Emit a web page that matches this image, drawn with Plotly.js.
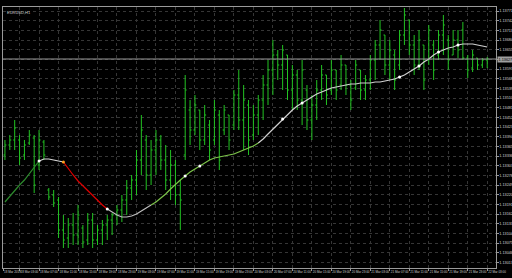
<!DOCTYPE html>
<html><head><meta charset="utf-8">
<script src="https://cdn.plot.ly/plotly-3.0.1.min.js"></script>
<style>html,body{margin:0;padding:0;background:#000;}#chart{width:512px;height:278px;}</style>
</head><body><div id="chart"></div>
<script>
const symbolTitle = "EURUSD,H1";
const highs = [1.13384,1.13399,1.13444,1.13399,1.13384,1.13414,1.13399,1.13414,1.13384,1.13240,
1.13234,1.13213,1.13159,1.13150,1.13165,1.13189,1.13129,1.13165,1.13165,1.13129,
1.13144,1.13159,1.13165,1.13189,1.13219,1.13264,1.13279,1.13354,1.13459,1.13399,
1.13384,1.13414,1.13399,1.13369,1.13354,1.13324,1.13264,1.13579,1.13504,1.13519,
1.13474,1.13489,1.13444,1.13504,1.13474,1.13489,1.13459,1.13534,1.13594,1.13549,
1.13504,1.13489,1.13519,1.13579,1.13624,1.13684,1.13654,1.13669,1.13639,1.13609,
1.13594,1.13624,1.13549,1.13519,1.13564,1.13609,1.13579,1.13624,1.13594,1.13639,
1.13609,1.13564,1.13624,1.13594,1.13579,1.13639,1.13684,1.13744,1.13699,1.13684,
1.13654,1.13714,1.13780,1.13744,1.13699,1.13714,1.13669,1.13729,1.13684,1.13714,
1.13759,1.13699,1.13714,1.13714,1.13738,1.13639,1.13654,1.13630,1.13630,1.13633];
const lows = [1.13324,1.13354,1.13354,1.13309,1.13324,1.13369,1.13225,1.13294,1.13324,1.13204,
1.13183,1.13090,1.13060,1.13060,1.13069,1.13069,1.13060,1.13069,1.13060,1.13069,
1.13069,1.13084,1.13099,1.13129,1.13138,1.13159,1.13204,1.13219,1.13279,1.13234,
1.13249,1.13279,1.13294,1.13234,1.13204,1.13189,1.13114,1.13324,1.13369,1.13399,
1.13354,1.13369,1.13324,1.13369,1.13294,1.13399,1.13354,1.13414,1.13414,1.13354,
1.13339,1.13384,1.13399,1.13444,1.13489,1.13519,1.13564,1.13534,1.13504,1.13474,
1.13474,1.13429,1.13414,1.13384,1.13444,1.13504,1.13489,1.13519,1.13504,1.13534,
1.13519,1.13474,1.13534,1.13504,1.13504,1.13534,1.13564,1.13624,1.13579,1.13564,
1.13534,1.13594,1.13669,1.13639,1.13579,1.13594,1.13534,1.13609,1.13564,1.13624,
1.13639,1.13594,1.13639,1.13630,1.13624,1.13570,1.13588,1.13594,1.13600,1.13600];
const opens = [1.13339,1.13369,1.13384,1.13384,1.13339,1.13375,1.13390,1.13309,1.13378,1.13234,
1.13219,1.13204,1.13114,1.13090,1.13129,1.13099,1.13120,1.13084,1.13144,1.13084,
1.13114,1.13129,1.13144,1.13159,1.13174,1.13204,1.13240,1.13264,1.13324,1.13384,
1.13279,1.13354,1.13384,1.13324,1.13264,1.13309,1.13219,1.13339,1.13474,1.13414,
1.13474,1.13384,1.13429,1.13384,1.13459,1.13414,1.13459,1.13429,1.13519,1.13444,
1.13489,1.13399,1.13459,1.13504,1.13549,1.13594,1.13639,1.13609,1.13639,1.13534,
1.13579,1.13504,1.13534,1.13444,1.13489,1.13534,1.13579,1.13534,1.13594,1.13549,
1.13609,1.13549,1.13540,1.13594,1.13534,1.13564,1.13624,1.13669,1.13699,1.13609,
1.13639,1.13609,1.13699,1.13744,1.13669,1.13609,1.13669,1.13624,1.13669,1.13639,
1.13699,1.13684,1.13639,1.13684,1.13714,1.13630,1.13600,1.13630,1.13609,1.13624];
const closes = [1.13369,1.13384,1.13420,1.13330,1.13369,1.13399,1.13249,1.13384,1.13339,1.13213,
1.13195,1.13114,1.13084,1.13129,1.13099,1.13159,1.13078,1.13144,1.13084,1.13114,
1.13129,1.13144,1.13159,1.13174,1.13204,1.13240,1.13264,1.13324,1.13414,1.13279,
1.13354,1.13384,1.13324,1.13264,1.13309,1.13219,1.13204,1.13534,1.13414,1.13489,
1.13384,1.13459,1.13354,1.13474,1.13324,1.13474,1.13384,1.13519,1.13444,1.13504,
1.13384,1.13459,1.13504,1.13549,1.13594,1.13639,1.13609,1.13654,1.13534,1.13579,
1.13504,1.13594,1.13444,1.13489,1.13534,1.13579,1.13519,1.13594,1.13534,1.13609,
1.13549,1.13504,1.13609,1.13534,1.13564,1.13624,1.13669,1.13714,1.13609,1.13654,
1.13564,1.13699,1.13759,1.13669,1.13609,1.13684,1.13564,1.13714,1.13594,1.13699,
1.13729,1.13624,1.13684,1.13654,1.13630,1.13594,1.13639,1.13609,1.13624,1.13627];
const maValues = [1.13198,1.13216,1.13234,1.13249,1.13264,1.13282,1.13303,1.13321,1.13327,1.13327,
1.13324,1.13321,1.13318,1.13297,1.13279,1.13261,1.13246,1.13231,1.13216,1.13204,
1.13189,1.13177,1.13168,1.13159,1.13153,1.13153,1.13156,1.13162,1.13171,1.13180,
1.13189,1.13198,1.13210,1.13222,1.13237,1.13252,1.13264,1.13276,1.13288,1.13297,
1.13306,1.13315,1.13324,1.13330,1.13333,1.13336,1.13339,1.13342,1.13348,1.13354,
1.13360,1.13366,1.13375,1.13387,1.13402,1.13417,1.13432,1.13447,1.13462,1.13474,
1.13486,1.13495,1.13504,1.13513,1.13522,1.13528,1.13534,1.13540,1.13543,1.13546,
1.13549,1.13552,1.13552,1.13555,1.13555,1.13555,1.13558,1.13558,1.13561,1.13564,
1.13567,1.13573,1.13579,1.13588,1.13597,1.13606,1.13618,1.13627,1.13639,1.13648,
1.13654,1.13660,1.13663,1.13669,1.13672,1.13672,1.13672,1.13669,1.13666,1.13663];
// MA colour segments: [first bar, last bar, colour]
const maSegStart = [0, 7, 12, 21, 30, 52];
const maSegEnd   = [7, 12, 21, 30, 52, 99];
const maSegColor = ['#2d8a2d', '#d8d8d8', '#e00000', '#bdbdbd', '#7cc44a', '#d0d0d0'];
const dotIndex = [7, 12, 21, 37, 40, 57, 61, 81, 85, 89, 93];
const dotColor = ['#ffffff', '#ff9f1a', '#ffffff', '#ffffff', '#ffffff', '#ffffff', '#ffffff', '#ffffff', '#ffffff', '#ffffff', '#ffffff'];
const lastPrice = 1.13627;
const tickPos = [-0.4, 3, 7, 11, 15, 19, 23, 27, 31, 35, 39, 43, 47, 51, 55, 59, 63, 67, 71, 75, 79, 83, 87, 91, 95, 99];
const tickLabels = ["18 Mar 2019","18 Mar 03:00","18 Mar 07:00","18 Mar 11:00","18 Mar 15:00","18 Mar 19:00","18 Mar 23:00",
"19 Mar 03:00","19 Mar 07:00","19 Mar 11:00","19 Mar 15:00","19 Mar 19:00","19 Mar 23:00",
"20 Mar 03:00","20 Mar 07:00","20 Mar 11:00","20 Mar 15:00","20 Mar 19:00","20 Mar 23:00",
"21 Mar 03:00","21 Mar 07:00","21 Mar 11:00","21 Mar 15:00","21 Mar 19:00","21 Mar 23:00","22 Mar 03:00"];

const idx = highs.map((_, i) => i);
const traces = [{
  type: 'ohlc', x: idx, open: opens, high: highs, low: lows, close: closes,
  increasing: {line: {color: '#22c322', width: 1}},
  decreasing: {line: {color: '#22c322', width: 1}},
  tickwidth: 0.3, hoverinfo: 'skip', showlegend: false
}];
for (let s = 0; s < maSegStart.length; s++) {
  const xs = [], ys = [];
  for (let i = maSegStart[s]; i <= maSegEnd[s]; i++) { xs.push(i); ys.push(maValues[i]); }
  traces.push({type: 'scatter', mode: 'lines', x: xs, y: ys, line: {color: maSegColor[s], width: 1.2}, showlegend: false, hoverinfo: 'skip'});
}
traces.push({type: 'scatter', mode: 'markers', x: dotIndex, y: dotIndex.map(i => maValues[i]),
  marker: {color: dotColor, size: 3}, showlegend: false, hoverinfo: 'skip'});

const narrow = '"Liberation Sans Narrow", "Liberation Sans", Arial, sans-serif';
const font = {family: narrow, size: 3.8, color: '#d0d0d0'};
const xfont = {family: narrow, size: 3.0, color: '#d0d0d0'};
const layout = {
  width: 512, height: 278,
  paper_bgcolor: '#000000', plot_bgcolor: '#000000',
  margin: {l: 3, r: 16, t: 7, b: 10},
  font: font,
  showlegend: false,
  xaxis: {
    range: [-0.4, 100.8], rangeslider: {visible: false},
    tickmode: 'array', tickvals: tickPos, ticktext: tickLabels, tickangle: 0,
    ticklabelposition: 'outside right', ticks: 'outside', ticklen: 2, tickcolor: '#9a9a9a',
    tickfont: xfont, showgrid: true, gridcolor: '#363636', griddash: 'dot', gridwidth: 1,
    showline: true, linecolor: '#9a9a9a', linewidth: 1, mirror: true, zeroline: false, fixedrange: true
  },
  yaxis: {
    range: [1.13, 1.13783], side: 'right', tick0: 1.13017, dtick: 0.00029, tickformat: '.5f',
    ticks: 'outside', ticklen: 1.5, tickcolor: '#9a9a9a', tickfont: font,
    showgrid: true, gridcolor: '#363636', griddash: 'dot', gridwidth: 1,
    showline: true, linecolor: '#9a9a9a', linewidth: 1, mirror: true, zeroline: false, fixedrange: true
  },
  shapes: [{type: 'line', xref: 'paper', x0: 0, x1: 1, yref: 'y', y0: lastPrice, y1: lastPrice,
    line: {color: '#9a9a9a', width: 1}}],
  annotations: [
    {xref: 'paper', yref: 'paper', x: 0.005, y: 0.995, xanchor: 'left', yanchor: 'top',
     text: symbolTitle, showarrow: false, font: {family: narrow, size: 4, color: '#d0d0d0'}},
    {xref: 'paper', yref: 'y', x: 1.002, y: lastPrice, xanchor: 'left', yanchor: 'middle',
     text: lastPrice.toFixed(5), showarrow: false, bgcolor: '#a0a0a0', borderpad: 0.5,
     font: {family: narrow, size: 3.8, color: '#000000'}}
  ]
};
Plotly.newPlot('chart', traces, layout, {staticPlot: true, displayModeBar: false});
</script></body></html>
